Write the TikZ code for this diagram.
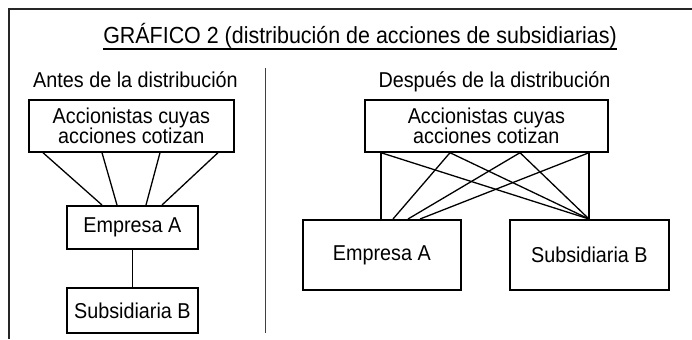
\documentclass[tikz,border=0pt]{standalone}
\usepackage{fontspec}
\setmainfont{Liberation Sans}[FakeStretch=0.92]
\usetikzlibrary{calc}
\begin{document}
\begin{tikzpicture}[x=1bp,y=-1bp,
  box/.style={draw=black,line width=1.7bp,inner sep=0pt,anchor=north west,align=center,
    font=\fontsize{21.5bp}{20.5bp}\selectfont},
  lbl/.style={inner sep=0pt,anchor=base,font=\fontsize{21.5bp}{21.5bp}\selectfont},
  link/.style={line width=1.3bp,black}]
\path[fill=white,use as bounding box] (0,0) rectangle (692,339);
% frame
\draw[line width=2bp,black!85] (692,9) -- (9,9) -- (9,339);
% title
\node[lbl,font=\fontsize{23.3bp}{23.3bp}\selectfont] (title) at (360,43) {GRÁFICO 2 (distribución de acciones de subsidiarias)};
\draw[line width=1.1bp] ([yshift=-6bp]title.base west) -- ([yshift=-6bp]title.base east);
% subtitles
\node[lbl] (antes) at (135.5,87) {Antes de la distribución};
\node[lbl] (despues) at (494.5,87) {Después de la distribución};
% divider
\coordinate (dtop) at (265.5,68);
\coordinate (dbot) at (265.5,333);
\draw[line width=1.4bp,black!75] (dtop) -- (dbot);
% left boxes
\node[box,minimum width=205bp,minimum height=52bp] (ltop) at (28,99) {Accionistas cuyas\\acciones cotizan};
\node[box,minimum width=131bp,minimum height=43bp] (lea) at (66,205) {Empresa A};
\node[box,minimum width=131bp,minimum height=45bp] (lsb) at (66,287) {Subsidiaria B};
% right boxes
\node[box,minimum width=243bp,minimum height=52bp] (rtop) at (364,99) {Accionistas cuyas\\acciones cotizan};
\node[box,minimum width=158bp,minimum height=70bp] (rea) at (302,219) {Empresa A};
\node[box,minimum width=159bp,minimum height=70bp] (rsb) at (509,219) {Subsidiaria B};
% left links
\draw[link] ($(ltop.south west)+(15,0)$) -- ($(lea.north west)+(36,0)$);
\draw[link] ($(ltop.south west)+(74,0)$) -- ($(lea.north west)+(51,0)$);
\draw[link] ($(ltop.south west)+(132,0)$) -- ($(lea.north west)+(80,0)$);
\draw[link] ($(ltop.south west)+(190,0)$) -- ($(lea.north west)+(96,0)$);
\draw[link] (lea.south) -- (lsb.north);
% right links
\coordinate (r1) at ($(rtop.south west)+(17,0)$);
\coordinate (r2) at ($(rtop.south west)+(86,0)$);
\coordinate (r3) at ($(rtop.south west)+(156,0)$);
\coordinate (r4) at ($(rtop.south west)+(225,0)$);
\coordinate (sb) at ($(rsb.north west)+(80,0)$);
\draw[link] (r1) -- ($(rea.north west)+(79,0)$);
\draw[link] (r2) -- ($(rea.north west)+(91,0)$);
\draw[link] (r3) -- ($(rea.north west)+(106,0)$);
\draw[link] (r4) -- ($(rea.north west)+(118,0)$);
\draw[link] (r1) -- (sb);
\draw[link] (r2) -- (sb);
\draw[link] (r3) -- (sb);
\draw[link] (r4) -- (sb);
\end{tikzpicture}
\end{document}
